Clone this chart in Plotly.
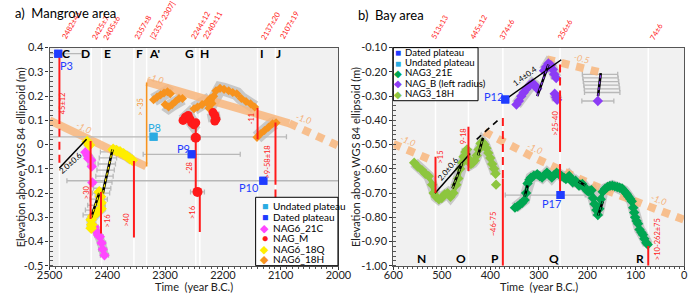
import plotly.graph_objects as go

FONT = "Lato"
RED = "#ff1a1a"
ORANGE = "#f7931e"
BAND = "rgba(248,182,124,0.85)"
SHADOW = "rgba(165,165,165,0.55)"
ERRC = "#b8b8b8"
BLUE = "#1f3cff"
LBLUE = "#29abe2"
MAGENTA = "#ff47ff"
YELLOW = "#ffee00"
DGREEN = "#00a651"
LGREEN = "#8dc63f"
PURPLE = "#8c3cf5"

# ======================= Panel a : Mangrove area =======================
a_event_t = [2483, 2428, 2410, 2354, 2332, 2247, 2240, 2140, 2109]
a_event_txt = ["2482±41", "2425±7", "2405±6", "2357±8", "[2357-2307]",
               "2244±12", "2240±11", "2137±20", "2107±19"]
a_event_shift = [-2, -4, -3, -4, -1, -9, -1, -1, 0]
a_letter = ["C", "D", "E", "F", "A'", "G", "H", "I", "J"]
a_letter_t = [2472, 2438, 2400, 2344, 2319, 2258, 2232, 2132, 2104]

a_xticks = [2500, 2400, 2300, 2200, 2100, 2000]
a_yticks = [0.4, 0.3, 0.2, 0.1, 0, -0.1, -0.2, -0.3, -0.4, -0.5]
a_ytick_txt = ["0.4", "0.3", "0.2", "0.1", "0", "-0.1", "-0.2", "-0.3", "-0.4", "-0.5"]

# plateaus
a_dated_name = ["P3", "P9", "P10"]
a_dated_t = [2485, 2254, 2130]
a_dated_v = [0.375, -0.040, -0.149]
a_dated_eplus = [17, 84, 340]
a_dated_eminus = [41, 84, 140]
a_dated_lab_t = [2471, 2269, 2155]
a_dated_lab_v = [0.326, -0.017, -0.175]
a_undated_name = ["P8"]
a_undated_t = [2320]
a_undated_v = [0.032]
a_undated_eplus = [180]
a_undated_eminus = [230]
a_undated_lab_t = [2319]
a_undated_lab_v = [0.072]

# NAG6_18H (orange)
a_18H_t = [2320, 2314, 2308, 2302, 2296, 2291, None,
           2300, 2294, 2288, 2282, 2276, 2270, None,
           2250, 2244, 2236, 2228, 2222, None,
           2224, 2219, 2216, 2212, 2205, 2198, 2190, 2183, 2176, 2168, 2160, 2152, 2145, None,
           2141, 2135, 2128, 2121, 2114, 2108]
a_18H_v = [0.185, 0.196, 0.205, 0.213, 0.218, 0.210, None,
           0.165, 0.155, 0.165, 0.178, 0.190, 0.190, None,
           0.148, 0.155, 0.165, 0.175, 0.190, None,
           0.150, 0.170, 0.200, 0.222, 0.232, 0.228, 0.222, 0.215, 0.210, 0.190, 0.178, 0.168, 0.155, None,
           0.030, 0.045, 0.058, 0.072, 0.086, 0.090]
# NAG_M (red)
a_M_t = [2269, 2265, 2260, 2257, 2254, 2250, 2247, None, 2217, 2214, 2212, 2214]
a_M_v = [0.100, 0.113, 0.120, 0.105, 0.090, 0.082, 0.090, None, 0.132, 0.120, 0.105, 0.097]
a_Mbig_t = [2247, 2244]
a_Mbig_v = [0.028, -0.195]
a_Mbig_err = [8, 12]
# NAG6_18Q (yellow)
a_18Q_t = [2435, 2431, None, 2390, 2384, 2378, 2372, 2366, 2361, 2357, None,
           2414, 2412, 2411, 2411, 2418, 2425, 2428, 2427, 2428]
a_18Q_v = [0.012, -0.002, None, -0.020, -0.025, -0.030, -0.038, -0.048, -0.058, -0.064, None,
           -0.195, -0.215, -0.240, -0.265, -0.280, -0.295, -0.310, -0.330, -0.345]
# NAG6_21C (magenta)
a_21C_t = [2438, 2434, 2433, 2428, 2427, None, 2426, None,
           2422, 2418, 2416, 2413, 2410, 2408, 2405]
a_21C_v = [-0.031, -0.045, -0.057, -0.064, -0.090, None, -0.156, None,
           -0.340, -0.360, -0.373, -0.380, -0.406, -0.432, -0.456]
a_21C_err = [0, 0, 0, 0, 0, 0, 5, 0, 6, 6, 6, 6, 7, 7, 7]

# trends (mm/yr)
a_tr1_t = [2500, 2333]
a_tr1_v = [0.100, -0.090]
a_tr2_t = [2332, 2085]
a_tr2_v = [0.259, 0.088]
a_tr2d_t = [2085, 2000]
a_tr2d_v = [0.088, -0.005]
a_tr_lab = ["-1.0", "-1.0", "-1.0"]
a_tr_lab_t = [2441, 2316, 2060]
a_tr_lab_v = [0.071, 0.272, 0.108]
a_tr_lab_ang = [26, 17, 17]

# red vertical bars
a_rl_t = [2483, 2483, 2429, 2411, 2354, 2247, 2240, 2140, 2109, 2109]
a_rl_top = [0.375, 0.065, 0.015, -0.195, -0.068, 0.075, -0.190, 0.151, 0.091, -0.185]
a_rl_bot = [0.085, -0.075, -0.307, -0.367, -0.383, -0.190, -0.360, 0.022, -0.165, -0.270]
a_rl_dash = ["solid", "8px,5px", "solid", "solid", "solid", "solid", "solid", "solid", "solid", "solid"]
a_rl_lab = ["45±12", ">30", ">16", ">40", "-28", ">16", "-11", ">9-58±18"]
a_rl_lab_t = [2477, 2436, 2399, 2367, 2257, 2253, 2149, 2122]
a_rl_lab_v = [0.170, -0.198, -0.313, -0.307, -0.095, -0.277, 0.110, -0.070]
a_ol_t = [2332]
a_ol_top = [0.256]
a_ol_bot = [-0.090]
a_ol_lab = ["> -35"]
a_ol_lab_t = [2343]
a_ol_lab_v = [0.157]

# black rate line + hatched lines
a_bl_t = [2483, 2436]
a_bl_v = [-0.096, 0.022]
a_bl_lab = "2.0±0.6"
a_bl_lab_t = 2464
a_bl_lab_v = -0.077
a_h1_t = [2428, 2414]
a_h1_v = [-0.300, -0.200]
a_h2_t = [2408, 2391]
a_h2_v = [-0.200, -0.020]
a_lad_t = [2392, 2394, 2396, 2398, 2400, 2402, 2404, 2406, 2410, 2414, 2418, 2422]
a_lad_v = [-0.030, -0.055, -0.080, -0.105, -0.130, -0.155, -0.180, -0.200, -0.225, -0.250, -0.270, -0.290]

a_leg_names = ["Undated plateau", "Dated plateau", "NAG6_21C", "NAG_M", "NAG6_18Q", "NAG6_18H"]
a_leg_sym = ["■", "■", "◆", "●", "◆", "◆"]
a_leg_col = [LBLUE, BLUE, MAGENTA, RED, YELLOW, ORANGE]

# ======================= Panel b : Bay area =======================
b_event_t = [513, 445, 374, 256, 74]
b_event_txt = ["513±13", "445±12", "374±6", "256±6", "74±6"]
b_event_shift = [-9, -3, -8, -7, -3]
b_letter = ["N", "O", "P", "Q", "R"]
b_letter_t = [541, 461, 390, 268, 92]

b_xticks = [600, 500, 400, 300, 200, 100, 0]
b_yticks = [-0.1, -0.2, -0.3, -0.4, -0.5, -0.6, -0.7, -0.8, -0.9, -1.0]
b_ytick_txt = ["-0.10", "-0.20", "-0.30", "-0.40", "-0.50", "-0.60", "-0.70", "-0.80", "-0.90", "-1.00"]

b_dated_name = ["P12", "P17"]
b_dated_t = [369, 255]
b_dated_v = [-0.314, -0.708]
b_dated_eplus = [0, 114]
b_dated_eminus = [0, 51]
b_dated_lab_t = [394, 273]
b_dated_lab_v = [-0.300, -0.742]

# NAG3_18H (light green)
b_18H_t = [557, 550, 541, 534, 527, 520, 517, 512, 506, 500, 494, 488, 482, 476, 470, 466, 462, 458,
           455, 451, 448, 444, 440, 436, 432, 428, 424, 420, 416, 412, 408, 404, 400, 396, 392, 389, None, 388]
b_18H_v = [-0.575, -0.590, -0.605, -0.620, -0.630, -0.665, -0.700, -0.715, -0.725, -0.720, -0.705, -0.700,
           -0.715, -0.700, -0.665, -0.640, -0.600, -0.575, -0.550, -0.530, -0.520, -0.560, -0.580, -0.575,
           -0.565, -0.545, -0.520, -0.495, -0.490, -0.500, -0.515, -0.535, -0.555, -0.580, -0.600, -0.620,
           None, -0.665]
# NAG3_21E (dark green)
b_21E_t = [349, 344, 339, 334, 329, 326, 323, 319, 316, 310, 303, 298, 293, 288, 283, 278, 273, 268, 263,
           258, 253, 248, 244, 240, 237, 233, 230, 227, 224, 220, 217, 214, 210, 207, 204, 200, 197, 194,
           191, 188, 185, 181, 178, 175, 172, 168, 163, 158, 153, 148, 143, 138, 133, 128, 124, 121, 118,
           115, 111, 108, 105, 103, 101, 98, 95, 92, 88, 85, 82, 78, 75]
b_21E_v = [-0.760, -0.755, -0.747, -0.740, -0.728, -0.700, -0.660, -0.645, -0.636, -0.628, -0.622, -0.630,
           -0.636, -0.625, -0.616, -0.625, -0.636, -0.625, -0.616, -0.622, -0.629, -0.636, -0.642, -0.636,
           -0.629, -0.642, -0.655, -0.652, -0.649, -0.660, -0.669, -0.665, -0.662, -0.672, -0.681, -0.690,
           -0.694, -0.690, -0.688, -0.720, -0.745, -0.770, -0.790, -0.765, -0.725, -0.694, -0.682, -0.675,
           -0.670, -0.669, -0.672, -0.675, -0.678, -0.681, -0.690, -0.697, -0.705, -0.714, -0.724, -0.734,
           -0.760, -0.780, -0.800, -0.815, -0.826, -0.850, -0.862, -0.872, -0.888, -0.905, -0.912]
# NAG_B (purple)
b_B_t = [346, 341, 336, 331, 325, 319, 313, 308, 303, None,
         289, 285, 280, 275, 271, 268, 264, None, 267, 264, 262]
b_B_v = [-0.335, -0.320, -0.300, -0.285, -0.270, -0.255, -0.248, -0.255, -0.270, None,
         -0.195, -0.180, -0.165, -0.172, -0.190, -0.210, -0.225, None, -0.290, -0.305, -0.315]
b_Bpt_t = [178]
b_Bpt_v = [-0.320]
b_Bpt_err = [33]

# trends
b_tr1_t = [600, 515]
b_tr1_v = [-0.497, -0.569]
b_tr2_t = [412, 313, 187, 0]
b_tr2_v = [-0.447, -0.550, -0.668, -0.810]
b_tr3_t = [283, 165]
b_tr3_v = [-0.148, -0.206]
b_tr_lab = ["-1.0", "-1.0", "-0.5", "-1.0"]
b_tr_lab_t = [570, 307, 210, 52]
b_tr_lab_v = [-0.485, -0.516, -0.143, -0.727]
b_tr_lab_ang = [23, 23, 14, 20]

# red bars
b_rl_t = [513, 445, 374, 374, 256, 256, 256, 74]
b_rl_top = [-0.550, -0.426, -0.390, -0.640, -0.170, -0.300, -0.580, -0.918]
b_rl_bot = [-0.700, -0.609, -0.640, -1.000, -0.300, -0.530, -0.700, -1.000]
b_rl_dash = ["solid", "solid", "8px,5px", "solid", "8px,5px", "solid", "solid", "solid"]
b_rl_lab = [">15", "9-18", "~46-75", ">25-40", ">10-262±75"]
b_rl_lab_t = [502, 456, 393, 266, 56]
b_rl_lab_v = [-0.550, -0.465, -0.826, -0.413, -0.890]

# black rate lines
b_bl1_t = [514, 441.6]
b_bl1_v = [-0.701, -0.537]
b_bl2_t = [428, 379]
b_bl2_v = [-0.478, -0.390]
b_bl3_t = [369, 253.5]
b_bl3_v = [-0.314, -0.150]
b_bl_lab = ["2.0±0.6", "1.4±0.4"]
b_bl_lab_t = [488, 329]
b_bl_lab_v = [-0.599, -0.216]
b_bl_lab_ang = [-50, -36]
b_hLG = [([478, 458], [-0.681, -0.576]), ([425, 415], [-0.544, -0.472])]
b_hP = [([303, 280], [-0.300, -0.170]), ([177.6, 172], [-0.300, -0.205])]
b_hDG = [([329, 323], [-0.714, -0.668]), ([177.6, 167.7], [-0.793, -0.734]), ([218, 204], [-0.652, -0.668])]
b_lad_t = [177, 176, 175, 174, 173, 172.5]
b_lad_v = [-0.210, -0.225, -0.240, -0.255, -0.270, -0.285]

b_leg_names = ["Dated plateau", "Undated plateau", "NAG3_21E", "NAG_B (left radius)", "NAG3_18H"]
b_leg_sym = ["■", "■", "◆", "◆", "◆"]
b_leg_col = [BLUE, LBLUE, DGREEN, PURPLE, LGREEN]

# ======================= figure =======================
fig = go.Figure()


def axes(p):
    return dict(xaxis="x", yaxis="y") if p == 1 else dict(xaxis="x2", yaxis="y2")


def line(x, y, color, width, p, dash="solid"):
    fig.add_trace(go.Scatter(x=x, y=y, mode="lines", line=dict(color=color, width=width, dash=dash),
                             showlegend=False, hoverinfo="skip", connectgaps=False, **axes(p)))


def series(x, y, color, symbol, size, p, lw=0, ex=None, exm=None):
    kw = {}
    if ex is not None:
        kw["error_x"] = dict(type="data", array=ex, arrayminus=exm if exm is not None else ex,
                             color=ERRC, thickness=1.3, width=2.5)
    fig.add_trace(go.Scatter(x=x, y=y, mode="lines+markers" if lw else "markers",
                             line=dict(color=color, width=lw),
                             marker=dict(color=color, symbol=symbol, size=size, line=dict(width=0)),
                             showlegend=False, hoverinfo="skip", connectgaps=False, **kw, **axes(p)))


def hatched(x, y, color, p):
    line(x, y, "black", 2.6, p)
    line(x, y, color, 1.2, p, dash="dot")


annotations = []


def txt(x, y, s, p=1, color="black", size=10, angle=0, xa="center", ya="middle", xref=None, yref=None,
        xshift=0, yshift=0):
    xr = xref or ("x" if p == 1 else "x2")
    yr = yref or ("y" if p == 1 else "y2")
    annotations.append(dict(x=x, y=y, xref=xr, yref=yr, text=s, showarrow=False, textangle=angle,
                            xanchor=xa, yanchor=ya, xshift=xshift, yshift=yshift,
                            font=dict(family=FONT, size=size, color=color)))


# ---------- panel a ----------
line(a_18H_t, a_18H_v, SHADOW, 13, 1)
line(a_M_t, a_M_v, SHADOW, 13, 1)
line(a_18Q_t, a_18Q_v, SHADOW, 10, 1)
line(a_21C_t, a_21C_v, SHADOW, 9, 1)
series(a_lad_t, a_lad_v, "rgba(0,0,0,0)", "circle", 2, 1, ex=[20] * len(a_lad_t), exm=[10] * len(a_lad_t))
line(a_tr1_t, a_tr1_v, BAND, 8, 1)
line(a_tr2_t, a_tr2_v, BAND, 8, 1)
line(a_tr2d_t, a_tr2d_v, BAND, 8, 1, dash="8px,7px")
series(a_undated_t, a_undated_v, LBLUE, "square", 8, 1, ex=a_undated_eplus, exm=a_undated_eminus)
series(a_dated_t, a_dated_v, BLUE, "square", 8, 1, ex=a_dated_eplus, exm=a_dated_eminus)
series(a_18H_t, a_18H_v, ORANGE, "diamond", 7, 1, lw=4)
series(a_21C_t, a_21C_v, MAGENTA, "diamond", 8, 1, ex=a_21C_err)
series(a_18Q_t, a_18Q_v, YELLOW, "diamond", 9, 1, lw=3)
series(a_M_t, a_M_v, RED, "circle", 9, 1, lw=4)
series(a_Mbig_t, a_Mbig_v, RED, "circle", 10, 1, ex=a_Mbig_err)
line(a_bl_t, a_bl_v, "black", 1.5, 1)
hatched(a_h1_t, a_h1_v, YELLOW, 1)
hatched(a_h2_t, a_h2_v, YELLOW, 1)
for t, top, bot, d in zip(a_rl_t, a_rl_top, a_rl_bot, a_rl_dash):
    line([t, t], [top, bot], RED, 2, 1, dash=d)
for t, top, bot in zip(a_ol_t, a_ol_top, a_ol_bot):
    line([t, t], [top, bot], ORANGE, 1.6, 1)
series(a_dated_t, a_dated_v, BLUE, "square", 8, 1)
series(a_undated_t, a_undated_v, LBLUE, "square", 8, 1)

# ---------- panel b ----------
line(b_18H_t, b_18H_v, SHADOW, 11, 2)
line(b_21E_t, b_21E_v, SHADOW, 11, 2)
line(b_B_t, b_B_v, SHADOW, 11, 2)
series(b_lad_t, b_lad_v, "rgba(0,0,0,0)", "circle", 2, 2, ex=[33] * len(b_lad_t), exm=[40] * len(b_lad_t))
line(b_tr1_t, b_tr1_v, BAND, 8, 2, dash="8px,7px")
line(b_tr2_t, b_tr2_v, BAND, 8, 2, dash="8px,7px")
line(b_tr3_t, b_tr3_v, BAND, 8, 2, dash="8px,7px")
series(b_dated_t, b_dated_v, BLUE, "square", 8, 2, ex=b_dated_eplus, exm=b_dated_eminus)
series(b_18H_t, b_18H_v, LGREEN, "diamond", 8, 2, lw=4)
series(b_21E_t, b_21E_v, DGREEN, "diamond", 8, 2, lw=4)
series(b_B_t, b_B_v, PURPLE, "diamond", 8, 2, lw=4)
series(b_Bpt_t, b_Bpt_v, PURPLE, "diamond", 8, 2, ex=b_Bpt_err)
line(b_bl1_t, b_bl1_v, "black", 1.5, 2)
line(b_bl2_t, b_bl2_v, "black", 1.6, 2, dash="6px,5px")
line(b_bl3_t, b_bl3_v, "black", 1.5, 2)
for xs, ys in b_hLG:
    hatched(xs, ys, LGREEN, 2)
for xs, ys in b_hP:
    hatched(xs, ys, PURPLE, 2)
for xs, ys in b_hDG:
    hatched(xs, ys, DGREEN, 2)
for t, top, bot, d in zip(b_rl_t, b_rl_top, b_rl_bot, b_rl_dash):
    line([t, t], [top, bot], RED, 2, 2, dash=d)
series(b_dated_t, b_dated_v, BLUE, "square", 8, 2)

# ---------- shapes ----------
shapes = []
for t in a_event_t:
    shapes.append(dict(type="line", xref="x", yref="y domain", x0=t, x1=t, y0=0, y1=1,
                       line=dict(color="white", width=1.5), layer="below"))
for t in b_event_t:
    shapes.append(dict(type="line", xref="x2", yref="y2 domain", x0=t, x1=t, y0=0, y1=1,
                       line=dict(color="white", width=1.5), layer="below"))


def px(xp):
    return xp / 700.0


def py(yp):
    return 1 - yp / 297.0


shapes.append(dict(type="rect", xref="paper", yref="paper", x0=px(252), x1=px(337.5), y0=py(270.5), y1=py(199),
                   fillcolor="white", line=dict(color="black", width=1), layer="above"))
shapes.append(dict(type="rect", xref="paper", yref="paper", x0=px(395), x1=px(483), y0=py(98), y1=py(42.5),
                   fillcolor="white", line=dict(color="black", width=1), layer="above"))

# ---------- annotations ----------
TOPY = py(38.5)
for t, s, sh in zip(a_event_t, a_event_txt, a_event_shift):
    txt(t, TOPY, s, 1, RED, 7.5, -60, "left", "bottom", yref="paper", xshift=sh)
for t, s, sh in zip(b_event_t, b_event_txt, b_event_shift):
    txt(t, TOPY, s, 2, RED, 7.5, -60, "left", "bottom", yref="paper", xshift=sh)
for t, s in zip(a_letter_t, a_letter):
    txt(t, 0.376, "<b>" + s + "</b>", 1, "black", 12)
for t, s in zip(b_letter_t, b_letter):
    txt(t, -0.968, "<b>" + s + "</b>", 2, "black", 12)
for t, v, s in zip(a_rl_lab_t, a_rl_lab_v, a_rl_lab):
    txt(t, v, s, 1, RED, 7.5, -90)
for t, v, s in zip(a_ol_lab_t, a_ol_lab_v, a_ol_lab):
    txt(t, v, s, 1, ORANGE, 7.5, -90)
for t, v, s in zip(b_rl_lab_t, b_rl_lab_v, b_rl_lab):
    txt(t, v, s, 2, RED, 7.5, -90)
for t, v, s, a in zip(a_tr_lab_t, a_tr_lab_v, a_tr_lab, a_tr_lab_ang):
    txt(t, v, "<i>" + s + "</i>", 1, "#f4b27a", 9, a)
for t, v, s, a in zip(b_tr_lab_t, b_tr_lab_v, b_tr_lab, b_tr_lab_ang):
    txt(t, v, "<i>" + s + "</i>", 2, "#f4b27a", 9, a)
txt(a_bl_lab_t, a_bl_lab_v, a_bl_lab, 1, "black", 8, -42)
for t, v, s, a in zip(b_bl_lab_t, b_bl_lab_v, b_bl_lab, b_bl_lab_ang):
    txt(t, v, s, 2, "black", 8, a)
for t, v, s in zip(a_dated_lab_t, a_dated_lab_v, a_dated_name):
    txt(t, v, s, 1, BLUE, 11)
for t, v, s in zip(a_undated_lab_t, a_undated_lab_v, a_undated_name):
    txt(t, v, s, 1, LBLUE, 11)
for t, v, s in zip(b_dated_lab_t, b_dated_lab_v, b_dated_name):
    txt(t, v, s, 2, BLUE, 11)

for i, (n, s, c) in enumerate(zip(a_leg_names, a_leg_sym, a_leg_col)):
    yy = py(208.5 + i * 11.1)
    txt(px(261.5), yy, s, color=c, size=10.5, xref="paper", yref="paper")
    txt(px(268), yy, n, color="black", size=10, xa="left", xref="paper", yref="paper")
for i, (n, s, c) in enumerate(zip(b_leg_names, b_leg_sym, b_leg_col)):
    yy = py(47.3 + i * 10.8)
    txt(px(400), yy, s, color=c, size=10, xref="paper", yref="paper")
    txt(px(405), yy, n, color="black", size=9.6, xa="left", xref="paper", yref="paper")

txt(0, py(6.5), "a)\u00a0 Mangrove area", color="black", size=13, xa="left", xref="paper", yref="paper")
txt(px(356), py(8), "b)\u00a0 Bay area", color="black", size=13, xa="left", xref="paper", yref="paper")
txt(px(188), py(292.5), "Time\u00a0 (year B.C.)", color="#222", size=11, xref="paper", yref="paper")
txt(px(546), py(292.5), "Time\u00a0 (year B.C.)", color="#222", size=11, xref="paper", yref="paper")
txt(px(7.5), py(157), "Elevation above WGS 84 ellipsoid (m)", color="#222", size=11, angle=-90,
    xref="paper", yref="paper")
txt(px(355), py(157), "Elevation above WGS 84 ellipsoid (m)", color="#222", size=11, angle=-90,
    xref="paper", yref="paper")

AX = dict(showgrid=False, zeroline=False, showline=True, linecolor="#555", linewidth=1.2, mirror=True,
          ticks="outside", ticklen=3, tickcolor="#333", tickfont=dict(family=FONT, size=11, color="#222"))

fig.update_layout(
    width=700, height=297, margin=dict(l=0, r=0, t=0, b=0),
    paper_bgcolor="white", plot_bgcolor="#f1f1f1", showlegend=False,
    font=dict(family=FONT),
    xaxis=dict(domain=[px(38), px(338)], range=[2500, 2000], tickvals=a_xticks, anchor="y",
               ticklabelstandoff=-4,
               minor=dict(dtick=10, ticks="outside", ticklen=2, tickcolor="#555"), **AX),
    yaxis=dict(domain=[py(270.7), py(42.5)], range=[-0.5, 0.4], tickvals=a_yticks, ticktext=a_ytick_txt,
               anchor="x", minor=dict(dtick=0.02, ticks="inside", ticklen=3, tickcolor="#555"), **AX),
    xaxis2=dict(domain=[px(395), px(697)], range=[600, 0], tickvals=b_xticks, anchor="y2",
                ticklabelstandoff=-4,
                minor=dict(dtick=10, ticks="outside", ticklen=2, tickcolor="#555"), **AX),
    yaxis2=dict(domain=[py(270.7), py(42.5)], range=[-1.0, -0.1], tickvals=b_yticks, ticktext=b_ytick_txt,
                anchor="x2", minor=dict(dtick=0.02, ticks="inside", ticklen=3, tickcolor="#555"), **AX),
    shapes=shapes, annotations=annotations,
)

fig.write_html("out.html")
